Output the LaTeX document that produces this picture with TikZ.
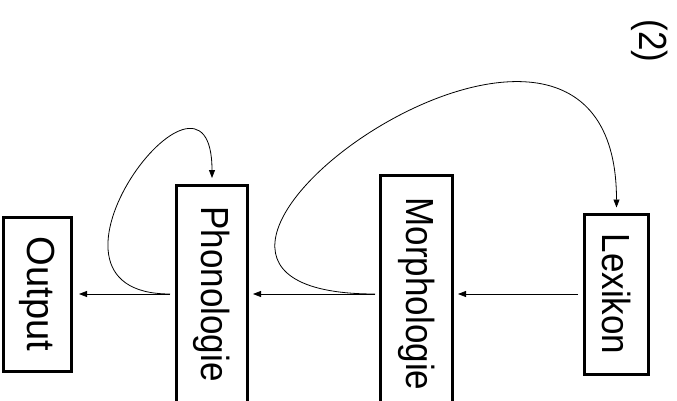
\documentclass[tikz,border=0pt]{standalone}
\usepackage{fontspec}
\setmainfont{Liberation Sans}
\usetikzlibrary{arrows.meta,calc}
\newcommand{\vtxt}[2][1]{\rotatebox{-90}{\scalebox{#1}[1.12]{#2}}}
\begin{document}
\begin{tikzpicture}[x=1pt,y=-1pt,
  box/.style={draw,line width=3pt,inner sep=0pt,font=\fontsize{35}{40}\selectfont},
  lbl/.style={inner sep=0pt,font=\fontsize{35}{40}\selectfont},
  arr/.style={line width=0.8pt,-{Triangle[length=8pt,width=6pt]}}]
\useasboundingbox (0,0) rectangle (677,401);
\clip (0,0) rectangle (677,401);
\node[box,minimum width=68pt,minimum height=154pt] (out) at (37.5,294) {\vtxt[1.09]{Output}};
\node[box,minimum width=71pt,minimum height=217pt] (phon) at (212,294) {\vtxt{Phonologie}};
\node[box,minimum width=72pt,minimum height=237pt] (mor) at (416.5,294) {\vtxt{Morphologie}};
\node[box,minimum width=64pt,minimum height=160pt] (lex) at (616.5,294) {\vtxt{Lexikon}};
\node[lbl] (num) at (650,41) {\vtxt{(2)}};
\coordinate (s1) at ([xshift=-5pt]phon.west);
\coordinate (e1) at ([yshift=6pt]phon.north);
\coordinate (s2) at ([xshift=-4pt]mor.west);
\coordinate (e2) at ([yshift=5pt]lex.north);
\draw[arr,shorten <=5pt,shorten >=4pt] (lex.west) -- (mor.east);
\draw[arr,shorten >=4pt] (s2) -- (phon.east);
\draw[arr,shorten >=6pt] (s1) -- (out.east);
\draw[arr] (s1) .. controls (9,294) and (212,28) .. (e1);
\draw[arr] (s2) .. controls (51,294) and (616.5,-113) .. (e2);
\end{tikzpicture}
\end{document}
